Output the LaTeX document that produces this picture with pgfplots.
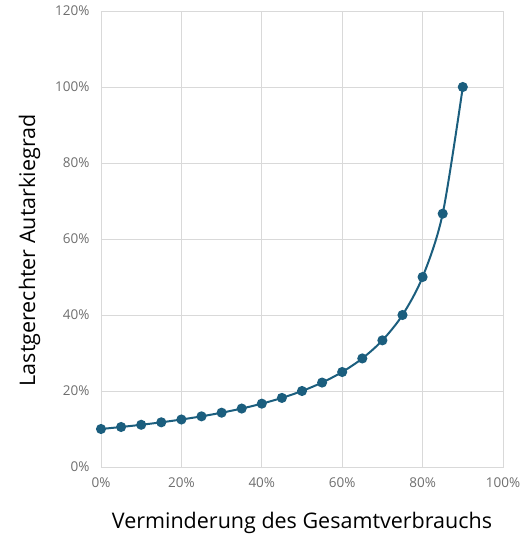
\documentclass[border=0pt]{standalone}
\usepackage{pgfplots}
\pgfplotsset{compat=1.18}
\usepackage{fontspec}
\setmainfont{Open Sans}
\definecolor{line}{HTML}{1B5E7E}
\definecolor{gridc}{HTML}{D9D9D9}
\definecolor{tickc}{HTML}{6E6E6E}
\begin{document}
\begin{tikzpicture}
\useasboundingbox (-101pt,-72pt) rectangle (424pt,467pt);
\begin{axis}[
  at={(0,0)}, anchor=south west,
  scale only axis, width=402pt, height=456pt,
  xmin=0, xmax=100, ymin=0, ymax=120,
  xtick={0,20,40,60,80,100}, ytick={0,20,40,60,80,100,120},
  xticklabel={\pgfmathprintnumber{\tick}\%},
  yticklabel={\pgfmathprintnumber{\tick}\%},
  /pgf/number format/assume math mode=true,
  tick label style={font=\fontsize{13.5}{15}\selectfont, text=tickc},
  xticklabel style={yshift=-7pt},
  yticklabel style={xshift=-8pt},
  major tick length=0pt,
  grid=major, grid style={gridc, line width=0.8pt},
  axis line style={gridc, line width=0.8pt},
  xlabel={Verminderung des Gesamtverbrauchs},
  ylabel={Lastgerechter Autarkiegrad},
  label style={font=\fontsize{21.5}{24}\selectfont},
  xlabel style={yshift=-18pt},
  ylabel style={at={(ticklabel cs:0.475)}, yshift=8pt},
]
\addplot[line, line width=2pt, smooth, tension=0.5, mark=*, mark size=4pt, mark options={fill=line, draw=line}] coordinates {
(0,10) (5,10.53) (10,11.11) (15,11.76) (20,12.5) (25,13.33) (30,14.29) (35,15.38) (40,16.67) (45,18.18) (50,20) (55,22.22) (60,25) (65,28.57) (70,33.33) (75,40) (80,50) (85,66.67) (90,100)
};
\end{axis}
\end{tikzpicture}
\end{document}
